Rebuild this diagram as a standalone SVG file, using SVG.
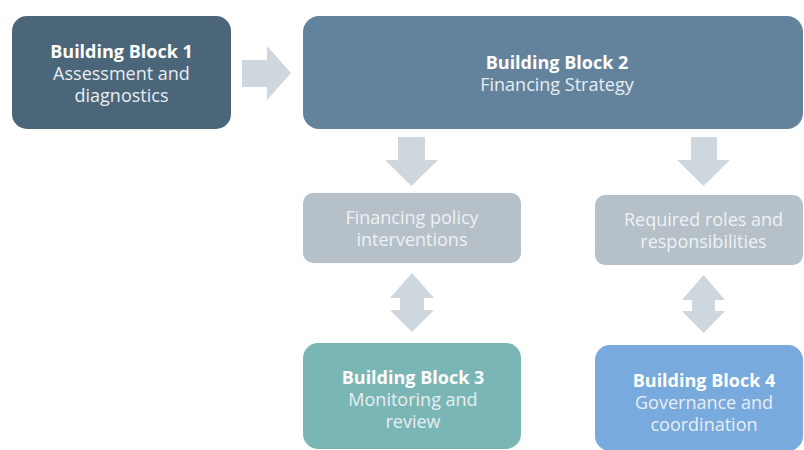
<svg xmlns="http://www.w3.org/2000/svg" width="804" height="450" viewBox="0 0 804 450">
  <style>
    .title { font-family: "Open Sans", "Noto Sans", "Liberation Sans", sans-serif; font-weight: 700; font-size: 18px; fill: #ffffff; text-anchor: middle; }
    .sub { font-family: "Open Sans", "Noto Sans", "Liberation Sans", sans-serif; font-weight: 400; font-size: 18px; fill: #e8eef2; text-anchor: middle; }
    .soft { font-family: "Open Sans", "Noto Sans", "Liberation Sans", sans-serif; font-weight: 400; font-size: 18px; fill: #eef2f5; text-anchor: middle; }
    .arrow { fill: #cfd7de; }
  </style>
  <rect width="804" height="450" fill="#ffffff"/>

  <!-- connectors: block arrows between the boxes -->
  <g id="connectors">
    <path class="arrow" d="M242,60 H267 V46 L291,73 L267,100 V87 H242 Z"/>
    <path class="arrow" d="M398,137 H425 V160 H438 L411.5,186 L385,160 H398 Z"/>
    <path class="arrow" d="M691,137 H717 V160 H730 L703.5,186 L677,160 H691 Z"/>
    <path class="arrow" d="M412,273 L434,298 H424 V310 H434 L412,332 L390,310 H400 V298 H390 Z"/>
    <path class="arrow" d="M703.5,275 L725,300 H715 V311 H725 L703.5,333 L682,311 H692 V300 H682 Z"/>
  </g>

  <g id="block1">
    <rect x="12" y="16" width="219" height="113" rx="15" fill="#4b6579"/>
    <text class="title" x="121.5" y="58">Building Block 1</text>
    <text class="sub" x="121.5" y="80">Assessment and</text>
    <text class="sub" x="121.5" y="102">diagnostics</text>
  </g>

  <g id="block2">
    <rect x="303" y="16" width="500" height="113" rx="16" fill="#63839d"/>
    <text class="title" x="557" y="69">Building Block 2</text>
    <text class="sub" x="557" y="91">Financing Strategy</text>
  </g>

  <g id="policy">
    <rect x="303" y="193" width="218" height="70" rx="10" fill="#b6c0c8"/>
    <text class="soft" x="412" y="224">Financing policy</text>
    <text class="soft" x="412" y="246">interventions</text>
  </g>

  <g id="roles">
    <rect x="595" y="195" width="208" height="70" rx="10" fill="#b6c0c8"/>
    <text class="soft" x="703.5" y="226">Required roles and</text>
    <text class="soft" x="703.5" y="248">responsibilities</text>
  </g>

  <g id="block3">
    <rect x="303" y="343" width="218" height="106" rx="15" fill="#7ab6b5"/>
    <text class="title" x="413" y="384">Building Block 3</text>
    <text class="sub" x="413" y="406">Monitoring and</text>
    <text class="sub" x="413" y="428">review</text>
  </g>

  <g id="block4">
    <rect x="595" y="345" width="208" height="106" rx="15" fill="#79aadd"/>
    <text class="title" x="704" y="387">Building Block 4</text>
    <text class="sub" x="704" y="409">Governance and</text>
    <text class="sub" x="704" y="431">coordination</text>
  </g>
</svg>
